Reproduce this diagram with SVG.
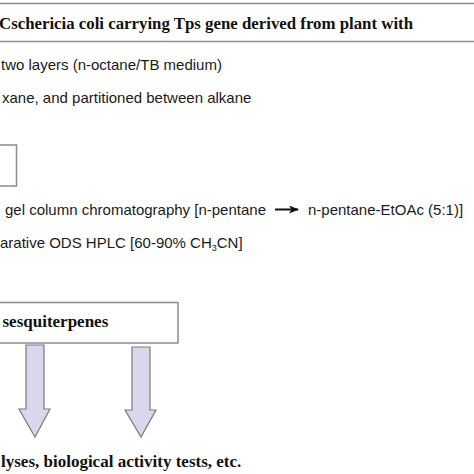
<svg xmlns="http://www.w3.org/2000/svg" width="474" height="474" viewBox="0 0 474 474">
<style>
.box{fill:#ffffff;stroke:#8c8c8c;stroke-width:1.5}
.bold{font-family:"Liberation Serif","Times New Roman",serif;font-weight:bold;font-size:17px;fill:#111}
.sans{font-family:"Liberation Sans",Arial,sans-serif;font-size:15px;fill:#1a1a1a}
.barrow{fill:#d9d6ee;stroke:#7a7a7a;stroke-width:1.2}
</style>
<defs>
<marker id="ah" markerWidth="10" markerHeight="8" refX="9" refY="4" orient="auto" markerUnits="userSpaceOnUse">
<path d="M0,0 L10,4 L0,8 L2.5,4 Z" fill="#111"/>
</marker>
</defs>
<rect width="474" height="474" fill="#ffffff"/>
<g id="title-node">
<rect class="box" x="-5" y="3.5" width="484" height="38"/>
<text class="bold" x="-1" y="29" textLength="414" lengthAdjust="spacingAndGlyphs">Cschericia coli carrying Tps gene derived from plant with</text>
</g>
<g id="step-text">
<text class="sans" x="1" y="70">two layers (n-octane/TB medium)</text>
<text class="sans" x="2" y="103">xane, and partitioned between alkane</text>
</g>
<g id="small-node">
<rect class="box" x="-5" y="145" width="21.5" height="41"/>
</g>
<g id="chromatography-text">
<text class="sans" x="5" y="215">gel column chromatography [n-pentane</text>
<text class="sans" x="308" y="215">n-pentane-EtOAc (5:1)]</text>
<text class="sans" x="0" y="248">arative ODS HPLC [60-90% CH<tspan font-size="9" dy="3">3</tspan><tspan dy="-3">CN]</tspan></text>
</g>
<g id="sesquiterpenes-node">
<rect class="box" x="-5" y="302.5" width="183" height="40.5"/>
<text class="bold" x="2.5" y="327">sesquiterpenes</text>
</g>
<g id="result-node">
<text class="bold" x="1" y="467">lyses, biological activity tests, etc.</text>
</g>
<g id="connectors">
<line x1="275" y1="209.5" x2="298" y2="209.5" stroke="#111" stroke-width="2" marker-end="url(#ah)"/>
<path class="barrow" d="M26,345 L44,345 L44,409 L50,409 L35,437 L19,409 L26,409 Z"/>
<path class="barrow" d="M132,347 L150,347 L150,410 L156,410 L141,437 L125,410 L132,410 Z"/>
</g>
</svg>
